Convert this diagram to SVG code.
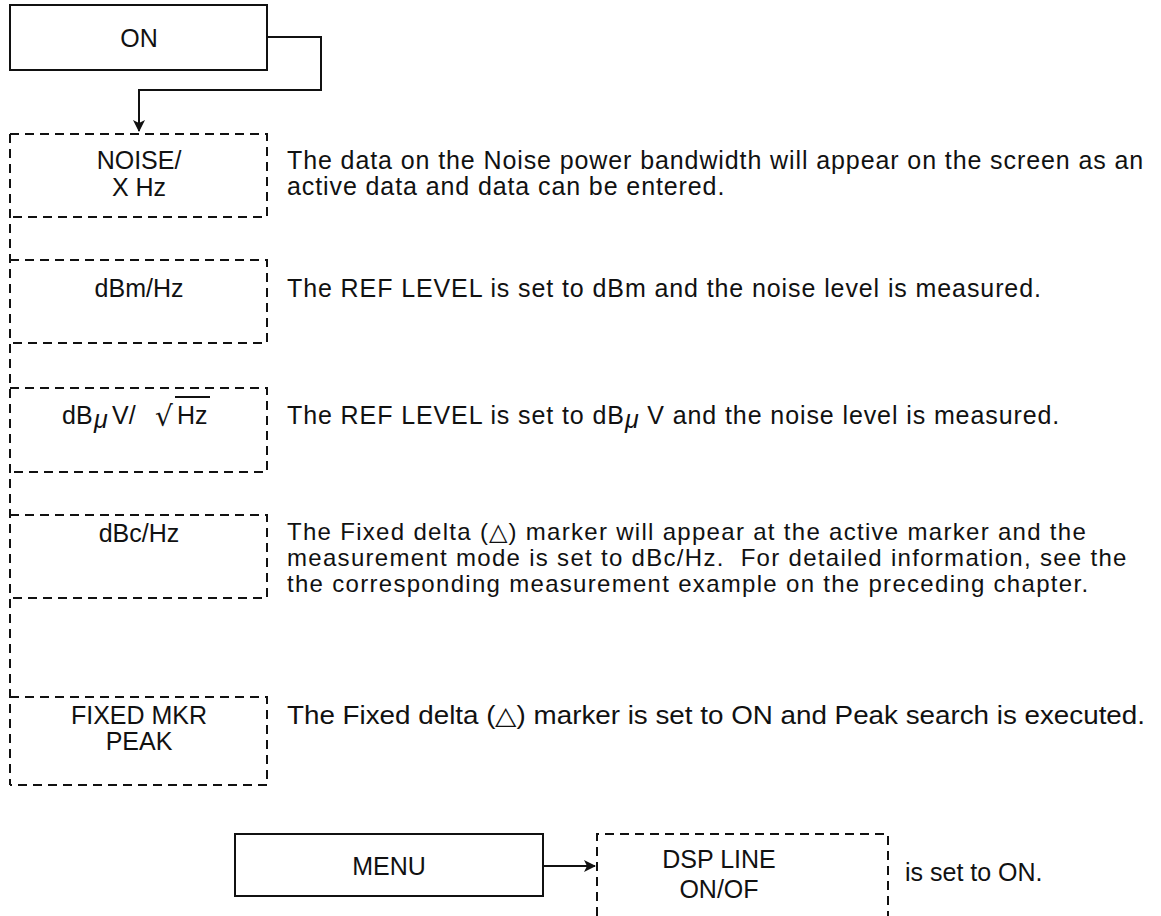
<svg xmlns="http://www.w3.org/2000/svg" width="1161" height="916" viewBox="0 0 1161 916">
<style>
text{font-family:"Liberation Sans",Arial,sans-serif;font-size:25px;fill:#111}
.c{text-anchor:middle}
.d{letter-spacing:0.9px}
.d2{font-size:24px;letter-spacing:1.3px}
.solid{fill:none;stroke:#111;stroke-width:2}
.dash{fill:none;stroke:#111;stroke-width:2;stroke-dasharray:9 6}
</style>
<defs>
<marker id="ah" markerWidth="12" markerHeight="16" refX="11" refY="6" orient="auto" markerUnits="userSpaceOnUse">
<path d="M0,0 L12,6 L0,12 L3,6 Z" fill="#111"/>
</marker>
</defs>
<rect width="1161" height="916" fill="#fff"/>
<g id="connectors">
<path class="solid" d="M267,37 H321 V90 H139 V131" marker-end="url(#ah)"/>
<path class="dash" d="M10,134 V785"/>
<path class="solid" d="M543,866 H595" marker-end="url(#ah)"/>
</g>
<g id="on">
<rect class="solid" x="10" y="5" width="257" height="65"/>
<text class="c" x="139" y="47">ON</text>
</g>
<g id="noise">
<path class="dash" d="M10,134 H267 V217 H10"/>
<text class="c" x="139" y="169">NOISE/</text>
<text class="c" x="139" y="196">X Hz</text>
<text class="d" x="287" y="169">The data on the Noise power bandwidth will appear on the screen as an</text>
<text class="d" x="287" y="195">active data and data can be entered.</text>
</g>
<g id="dbm">
<path class="dash" d="M10,260 H267 V343 H10"/>
<text class="c" x="139" y="297">dBm/Hz</text>
<text class="d" x="287" y="297">The REF LEVEL is set to dBm and the noise level is measured.</text>
</g>
<g id="dbuv">
<path class="dash" d="M10,388 H267 V472 H10"/>
<text x="62" y="424">dB</text>
<text x="94" y="428" font-style="italic">μ</text>
<text x="112" y="424">V/</text>
<text x="155" y="426" style="font-family:'DejaVu Sans',sans-serif;font-size:28px">√</text>
<text x="177" y="424">Hz</text>
<path class="solid" stroke-width="1.5" d="M175,397 H210"/>
<text class="d" x="287" y="424">The REF LEVEL is set to dB<tspan font-style="italic" dy="4">μ</tspan><tspan dy="-4"> V and the noise level is measured.</tspan></text>
</g>
<g id="dbc">
<path class="dash" d="M10,515 H267 V598 H10"/>
<text class="c" x="139" y="542">dBc/Hz</text>
<text class="d2" x="287" y="540">The Fixed delta (△) marker will appear at the active marker and the</text>
<text class="d2" x="287" y="566" xml:space="preserve">measurement mode is set to dBc/Hz.  For detailed information, see the</text>
<text class="d2" x="287" y="592">the corresponding measurement example on the preceding chapter.</text>
</g>
<g id="fixed">
<path class="dash" d="M10,697 H267 V785 H10"/>
<text class="c" x="139" y="724">FIXED MKR</text>
<text class="c" x="139" y="750">PEAK</text>
<text x="287" y="724" textLength="858" lengthAdjust="spacingAndGlyphs">The Fixed delta (△) marker is set to ON and Peak search is executed.</text>
</g>
<g id="menu">
<rect class="solid" x="235" y="834" width="308" height="62"/>
<text class="c" x="389" y="875">MENU</text>
</g>
<g id="dsp">
<path class="dash" d="M597,916 V834 H888 V916"/>
<text class="c" x="719" y="868">DSP LINE</text>
<text class="c" x="719" y="898">ON/OF</text>
<text x="905" y="881">is set to ON.</text>
</g>
</svg>
